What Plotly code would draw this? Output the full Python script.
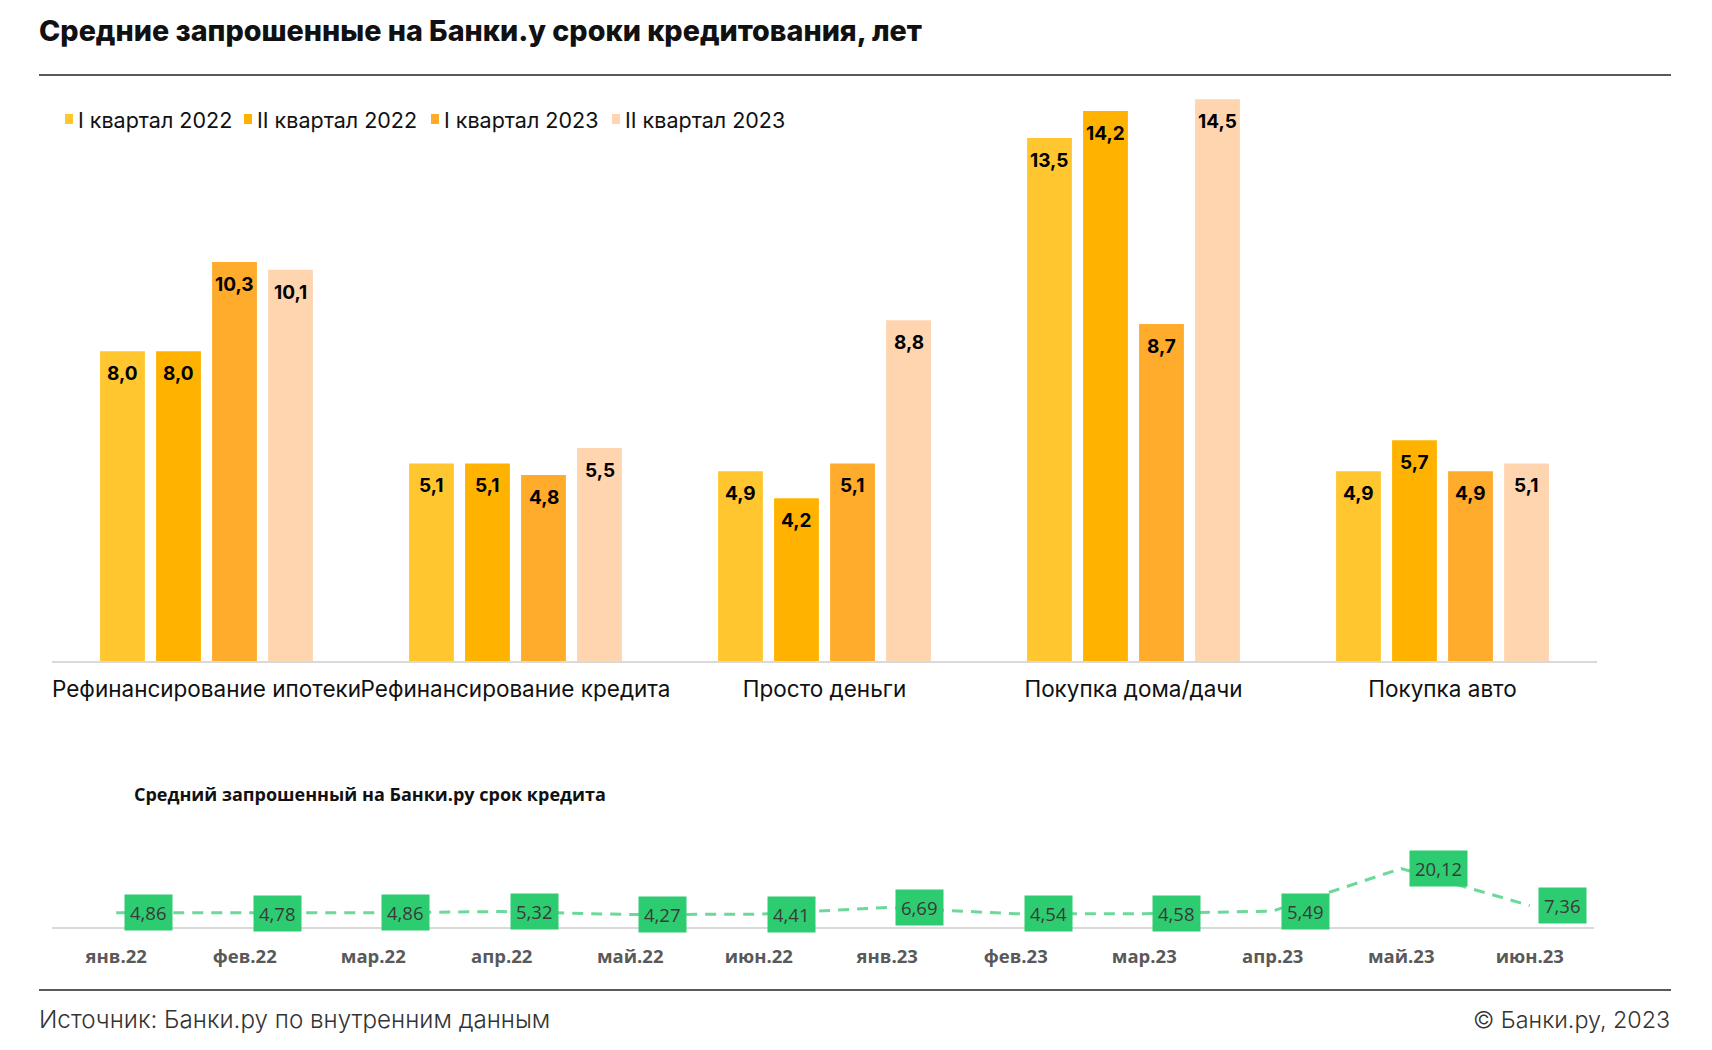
import plotly.graph_objects as go

W, H = 1712, 1050
OFF = 8  # page body margin

categories = ["Рефинансирование ипотеки", "Рефинансирование кредита", "Просто деньги",
              "Покупка дома/дачи", "Покупка авто"]
series_names = ["I квартал 2022", "II квартал 2022", "I квартал 2023", "II квартал 2023"]
q1_2022 = [8.0, 5.1, 4.9, 13.5, 4.9]
q2_2022 = [8.0, 5.1, 4.2, 14.2, 5.7]
q1_2023 = [10.3, 4.8, 5.1, 8.7, 4.9]
q2_2023 = [10.1, 5.5, 8.8, 14.5, 5.1]
series_values = [q1_2022, q2_2022, q1_2023, q2_2023]
series_colors = ["#FFC62F", "#FFB300", "#FFAB2B", "#FFD5B0"]

months = ["янв.22", "фев.22", "мар.22", "апр.22", "май.22", "июн.22",
          "янв.23", "фев.23", "мар.23", "апр.23", "май.23", "июн.23"]
avg_term = [4.86, 4.78, 4.86, 5.32, 4.27, 4.41, 6.69, 4.54, 4.58, 5.49, 20.12, 7.36]

# legend layout (page px)
legend_item_x = [65, 244, 431, 612]

BARGAP = 0.275
BARGROUPGAP = 0.2


def fmt(v, d):
    return f"{v:.{d}f}".replace(".", ",")


def px_x(p):
    return (p - OFF) / W


def px_y(p):
    return 1 - (p - OFF) / H


fig = go.Figure()

for name, vals, col in zip(series_names, series_values, series_colors):
    fig.add_trace(go.Bar(
        x=categories, y=vals, name=name,
        marker=dict(color=col, line=dict(width=0)),
        xaxis="x", yaxis="y", hoverinfo="skip", showlegend=False,
    ))

fig.add_trace(go.Scatter(
    x=months, y=avg_term, mode="lines",
    line=dict(color="#6CD99A", width=3, dash="11px,8px"),
    xaxis="x2", yaxis="y2", showlegend=False, hoverinfo="skip",
))

annotations = []

# bar value labels, placed at each bar's slot centre on the category axis
n_series = len(series_values)
slot = (1 - BARGAP) / n_series
for i, vals in enumerate(series_values):
    for j, v in enumerate(vals):
        annotations.append(dict(
            x=j + (i - (n_series - 1) / 2) * slot, y=v, xref="x", yref="y",
            xanchor="center", yanchor="top", yshift=-9, text=fmt(v, 1), showarrow=False,
            font=dict(family="Inter", size=19, color="#000000", weight=700),
        ))

# line data labels (to the right of each point)
for m, v in zip(months, avg_term):
    annotations.append(dict(
        x=m, y=v, xref="x2", yref="y2", text=fmt(v, 2), showarrow=False,
        xanchor="left", yanchor="middle", xshift=8,
        bgcolor="#2ECC71", borderpad=5,
        font=dict(family="Open Sans", size=18.5, color="#3A3A3A"),
    ))

shapes = [
    dict(type="line", xref="paper", yref="paper", x0=px_x(39), x1=px_x(1671),
         y0=px_y(75), y1=px_y(75), line=dict(color="#222222", width=1.5)),
    dict(type="line", xref="paper", yref="paper", x0=px_x(39), x1=px_x(1671),
         y0=px_y(990), y1=px_y(990), line=dict(color="#222222", width=1.5)),
]

# custom legend
for lx, name, col in zip(legend_item_x, series_names, series_colors):
    shapes.append(dict(type="rect", xref="paper", yref="paper",
                       x0=px_x(lx), x1=px_x(lx + 8), y0=px_y(124), y1=px_y(114),
                       fillcolor=col, line=dict(width=0)))
    annotations.append(dict(x=px_x(lx + 11), y=px_y(120), xref="paper", yref="paper",
                            xanchor="left", yanchor="middle", text=name, showarrow=False,
                            font=dict(family="Inter", size=21.5, color="#111111")))

# titles / footer
annotations += [
    dict(x=px_x(37), y=px_y(31), xref="paper", yref="paper", xanchor="left", yanchor="middle",
         text="Средние запрошенные на Банки.у сроки кредитования, лет", showarrow=False,
         font=dict(family="Inter", size=28.7, color="#111111", weight=800)),
    dict(x=px_x(132), y=px_y(794), xref="paper", yref="paper", xanchor="left", yanchor="middle",
         text="Средний запрошенный на Банки.ру срок кредита", showarrow=False,
         font=dict(family="Open Sans", size=18, color="#111111", weight=700)),
    dict(x=px_x(37), y=px_y(1019), xref="paper", yref="paper", xanchor="left", yanchor="middle",
         text="Источник: Банки.ру по внутренним данным", showarrow=False,
         font=dict(family="Inter", size=24.2, color="#333333", weight=300)),
    dict(x=px_x(1672), y=px_y(1019), xref="paper", yref="paper", xanchor="right", yanchor="middle",
         text="© Банки.ру, 2023", showarrow=False,
         font=dict(family="Inter", size=23.3, color="#333333", weight=300)),
]

fig.update_layout(
    width=W, height=H,
    margin=dict(l=0, r=0, t=0, b=0),
    paper_bgcolor="white", plot_bgcolor="white",
    barmode="group", bargap=BARGAP, bargroupgap=BARGROUPGAP,
    showlegend=False,
    xaxis=dict(domain=[px_x(52), px_x(1597)], range=[-0.5, 4.5], showgrid=False, showline=True,
               linecolor="#D9D9D9", linewidth=1.5, ticks="outside", ticklen=7,
               tickcolor="rgba(0,0,0,0)", tickangle=0,
               tickfont=dict(family="Inter", size=22.5, color="#111111"),
               anchor="y"),
    yaxis=dict(domain=[px_y(661), px_y(80)], range=[0, 15], showgrid=False,
               showticklabels=False, zeroline=False, anchor="x"),
    xaxis2=dict(domain=[px_x(52), px_x(1594)], range=[-0.5, 11.5], showgrid=False, showline=True,
                linecolor="#D9D9D9", linewidth=2, ticks="outside", ticklen=12,
                tickcolor="rgba(0,0,0,0)", tickangle=0,
                tickfont=dict(family="Open Sans", size=18.5, color="#595959", weight=700),
                anchor="y2"),
    yaxis2=dict(domain=[px_y(927), px_y(863)], range=[0, 22], showgrid=False,
                showticklabels=False, zeroline=False, anchor="x2"),
    annotations=annotations, shapes=shapes,
)

fig.write_html("out.html")
